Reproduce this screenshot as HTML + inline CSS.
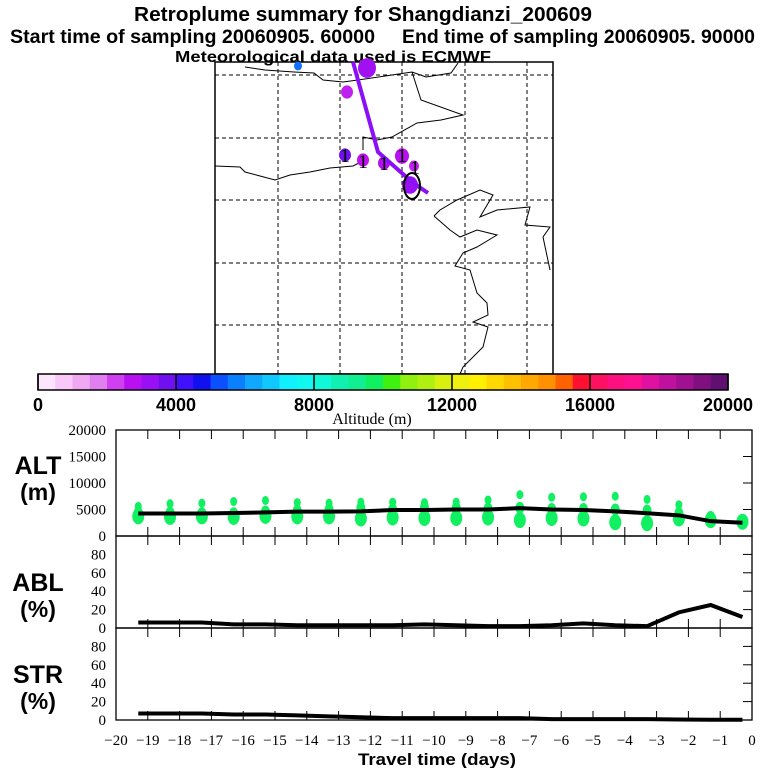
<!DOCTYPE html>
<html><head><meta charset="utf-8"><style>
body{margin:0;background:#fff}
svg{display:block}
.t{font-family:"Liberation Sans",sans-serif;font-weight:bold}
.s{font-family:"Liberation Serif",serif}
</style></head><body>
<svg id="c" width="768" height="768" viewBox="0 0 768 768">
<text class="t" x="363" y="21" font-size="20" text-anchor="middle" textLength="458" lengthAdjust="spacingAndGlyphs">Retroplume summary for Shangdianzi_200609</text>
<text class="t" x="10" y="43" font-size="19" textLength="365" lengthAdjust="spacingAndGlyphs">Start time of sampling 20060905. 60000</text>
<text class="t" x="402" y="43" font-size="19" textLength="353" lengthAdjust="spacingAndGlyphs">End time of sampling 20060905. 90000</text>
<text class="t" x="333" y="62" font-size="16" text-anchor="middle" textLength="316" lengthAdjust="spacingAndGlyphs">Meteorological data used is ECMWF</text>
<g id="map"></g>
<g id="cbar"></g>
<g id="panels"></g>
</svg>
<script>
const days=[-19.3,-18.3,-17.3,-16.3,-15.3,-14.3,-13.3,-12.3,-11.3,-10.3,-9.3,-8.3,-7.3,-6.3,-5.3,-4.3,-3.3,-2.3,-1.3,-0.3];
const altMean=[4250,4250,4250,4350,4450,4600,4600,4650,4900,4900,5000,5000,5250,5000,4900,4650,4300,3900,2800,2500];
const ablPct=[6,6,6,4,4,3,3,3,3,4,3,2,2,3,5,3,2,17,25,12];
const strPct=[7,7,7,6,6,5,4,3,2,2,2,2,2,1,1,1,1,0.5,0.3,0.3];
const blobLow=[3700,3600,3700,3600,3800,3700,3700,3300,3500,3400,3400,3500,3000,3400,3300,2600,2400,3300,3000,2700];
const blobMid=[4400,4400,4300,4300,4600,4800,5000,5300,5000,5400,5300,5200,5300,5100,5100,5000,4800,4300,3600,3000];
const blobHigh=[5600,6100,6200,6500,6700,6300,6200,6400,6400,6300,6400,6800,7800,7300,7400,7500,6900,5900,3800,2900];
const cbTicks=[0,4000,8000,12000,16000,20000];
const cbColors=["#fde6fd","#f9c8f9","#f0a8f3","#e080f0","#d040f0","#b810f0","#9a10f5","#7010f0","#4010ff","#1010f0","#0a50ff","#0a80ff","#10a8ff","#10c8ff","#10f0ff","#10f8f0","#10f8d8","#10f0b0","#10f090","#10f060","#40f010","#90f010","#b0f010","#d8f010","#f0f010","#ffef00","#ffd800","#ffc000","#ffa800","#ff9000","#ff6000","#ff1030","#ff1060","#ff1080","#ff1090","#e010a0","#c010a0","#a01090","#801080","#601070"];
const altTicks=[0,5000,10000,15000,20000];
const pctTicks=[0,20,40,60,80];
const dayTicks=[-20,-19,-18,-17,-16,-15,-14,-13,-12,-11,-10,-9,-8,-7,-6,-5,-4,-3,-2,-1,0];

const NS="http://www.w3.org/2000/svg";
function mk(p,tag,at,txt){const e=document.createElementNS(NS,tag);for(const k in at)e.setAttribute(k,at[k]);if(txt!==undefined)e.textContent=txt;p.appendChild(e);return e;}

const map=document.getElementById('map');
const mr=mk(map,'rect',{x:215,y:62,width:338,height:312,fill:'none',stroke:'#000','stroke-width':1.5});

[278,340,402,465,527].forEach(x=>{const l=mk(map,'line',{x1:x,y1:62,x2:x,y2:374,stroke:'#000','stroke-dasharray':'4,3','stroke-width':1});
});
[75,138,200,263,325].forEach(y=>{const l=mk(map,'line',{x1:215,y1:y,x2:553,y2:y,stroke:'#000','stroke-dasharray':'4,3','stroke-width':1});
});
const coasts=["215,166 240,167 245,172 260,176 275,180 290,175 310,172 330,168 353,166 365,160",
"245,67 265,70 294,72 314,73 323,80 343,82 358,80 392,75 412,72 426,77 451,73 458,63",
"412,72 421,100 463,115 441,120 417,123 392,137 377,140 363,137 363,150",
"434,216 440,210 457,200 480,190 493,195 480,217 497,210 530,207 525,225 550,227 543,237 550,270",
"434,216 450,230 460,237 477,230 497,235 477,247 463,253 455,266 470,270 477,293 487,303 488,315 473,322 488,327 483,347 463,367 460,374"];
coasts.forEach(p=>{const l=mk(map,'polyline',{points:p,fill:'none',stroke:'#000','stroke-width':1});
});
[[367,68,9,'#a010f0'],[347,92,6,'#c020f0'],[345,155,6,'#7010f0'],[363,160,6,'#c010f0'],[384,163,6,'#b010f0'],[402,156,7,'#b810f0'],[414,166,5,'#c020f0'],[298,66,4,'#1070ff'],[410,185,8,'#9a10f5']].forEach(d=>{
const c=mk(map,'ellipse',{cx:d[0],cy:d[1],rx:d[2],ry:d[2]*1.1,fill:d[3]});});
const tr=mk(map,'polyline',{points:"353,62 378,152 412,182 428,193",fill:'none',stroke:'#8a10f8','stroke-width':4});

const oe=mk(map,'ellipse',{cx:412,cy:186,rx:8,ry:13,fill:'none',stroke:'#000','stroke-width':2});

[[345,162],[363,168],[384,170],[402,162],[415,174]].forEach(p=>{const t=mk(map,'text',{x:p[0],y:p[1],'font-size':20,class:'s','text-anchor':'middle'},'1');
});

const cb=document.getElementById('cbar');
const cx0=38,cx1=728,cy0=374,ch=16,cw=(cx1-cx0)/cbColors.length;
cbColors.forEach((c,i)=>{const r=mk(cb,'rect',{x:cx0+i*cw,y:cy0,width:cw+0.5,height:ch,fill:c});
});
mk(cb,'rect',{x:cx0,y:cy0,width:cx1-cx0,height:ch,fill:'none',stroke:'#000','stroke-width':1.5});
cbTicks.forEach(v=>{const x=cx0+(cx1-cx0)*v/20000;
mk(cb,'line',{x1:x,y1:cy0,x2:x,y2:cy0+ch,stroke:'#000','stroke-width':1.5});
const t=mk(cb,'text',{x:x,y:411,'font-size':18,class:'t','text-anchor':'middle'},String(v));
});
const at=mk(cb,'text',{x:372,y:424,'font-size':16,class:'s','text-anchor':'middle'},'Altitude (m)');


const P=document.getElementById('panels');
const X0=116,X1=752;
const xs=d=>X0+(d+20)/20*(X1-X0);
function panel(top,bot,max,ticks,name,label,unit,ty){
 const g=mk(P,'g',{});
 const ys=v=>bot-(v/max)*(bot-top);
 mk(g,'rect',{x:X0,y:top,width:X1-X0,height:bot-top,fill:'none',stroke:'#000','stroke-width':1.3});
 dayTicks.forEach(d=>{if(d>-20&&d<0){const x=xs(d);mk(g,'line',{x1:x,y1:top,x2:x,y2:top+9,stroke:'#000'});mk(g,'line',{x1:x,y1:bot,x2:x,y2:bot-9,stroke:'#000'});}});
 ticks.forEach(v=>{const y=ys(v);mk(g,'line',{x1:X1,y1:y,x2:X1-9,y2:y,stroke:'#000'});
  const t=mk(g,'text',{x:106,y:y+5,'font-size':15,class:'s','text-anchor':'end'},String(v));
  });
 const l1=mk(g,'text',{x:38,y:ty,'font-size':25,class:'t','text-anchor':'middle'},label);
 
 const l2=mk(g,'text',{x:38,y:ty+26,'font-size':23,class:'t','text-anchor':'middle'},unit);
 
 return {g,ys};
}
const alt=panel(430,536,20000,altTicks,'alt','ALT','(m)',474);
days.forEach((d,i)=>{
 [[blobLow[i],6,8],[blobMid[i],4.5,6],[blobHigh[i],3.5,4.5]].forEach(b=>{
  const e=mk(alt.g,'ellipse',{cx:xs(d),cy:alt.ys(b[0]),rx:b[1],ry:b[2],fill:'#10f060'});
  });
});
function line(pn,vals,nm){const l=mk(pn.g,'polyline',{points:days.map((d,i)=>xs(d)+','+pn.ys(vals[i])).join(' '),fill:'none',stroke:'#000','stroke-width':4});
}
line(alt,altMean,'altitude-mean-line');
const abl=panel(536,628,100,pctTicks,'abl','ABL','(%)',591);
line(abl,ablPct,'abl-fraction-line');
const str=panel(628,720,100,pctTicks,'str','STR','(%)',683);
line(str,strPct,'str-fraction-line');
dayTicks.forEach(d=>{const t=mk(P,'text',{x:xs(d),y:745,'font-size':15,class:'s','text-anchor':'middle'},d===0?'0':'\u2212'+(-d));
});
const xt=mk(P,'text',{x:437,y:765,'font-size':17,class:'t','text-anchor':'middle',textLength:158,lengthAdjust:'spacingAndGlyphs'},'Travel time (days)');

</script>
</body></html>
